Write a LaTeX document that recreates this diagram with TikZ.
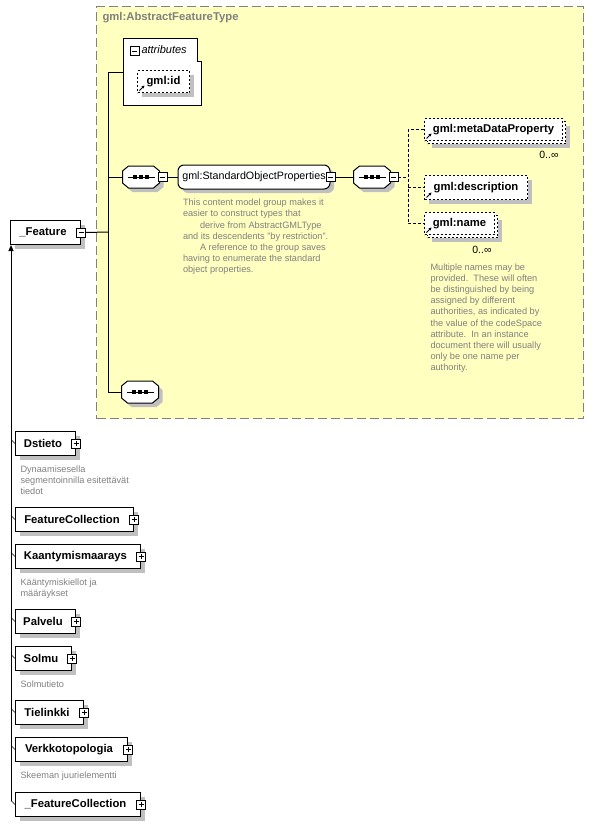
\documentclass[tikz,border=0pt]{standalone}
\usepackage{fontspec}
\setmainfont{Liberation Sans}
\usetikzlibrary{positioning,shadows,arrows.meta,calc}

\definecolor{typebg}{RGB}{255,255,192}
\definecolor{typeframe}{RGB}{128,128,128}
\definecolor{notegray}{RGB}{128,128,128}
\definecolor{shadowgray}{RGB}{192,192,192}

\tikzset{
  boxshadow/.style={drop shadow={shadow xshift=4pt, shadow yshift=-4pt, fill=shadowgray, opacity=1}},
  elem/.style={draw, fill=white, boxshadow, anchor=north west, inner sep=0pt,
    minimum height=24pt, font=\fontsize{11.3}{13}\selectfont\bfseries,
    execute at end node=\hspace*{5pt}},
  refbox/.style={draw, fill=white, anchor=north west, inner sep=0pt,
    minimum height=23pt, dash pattern=on 2pt off 2pt, font=\fontsize{11.3}{13}\selectfont\bfseries,
    path picture={\draw[solid, line width=0.8pt, -{Stealth[length=3pt,width=3pt]}]
      ([shift={(2pt,2pt)}]path picture bounding box.south west) -- ++(5pt,5pt);}},
  eref/.style={refbox, boxshadow},
  erefmulti/.style={refbox,
    drop shadow={shadow xshift=7pt, shadow yshift=-7pt, fill=shadowgray, opacity=1},
    copy shadow={shadow xshift=3pt, shadow yshift=-3pt, draw=black, fill=white, dash pattern=on 2pt off 2pt}},
  expander/.style={draw, solid, fill=white, minimum size=9pt, inner sep=0pt, line width=0.7pt},
  minusbox/.style={expander, path picture={
      \draw ([xshift=2pt]path picture bounding box.west) -- ([xshift=-2pt]path picture bounding box.east);}},
  plusbox/.style={expander, path picture={
      \draw ([xshift=2pt]path picture bounding box.west) -- ([xshift=-2pt]path picture bounding box.east);
      \draw ([yshift=2pt]path picture bounding box.south) -- ([yshift=-2pt]path picture bounding box.north);}},
  sequence/.style={minimum width=36pt, minimum height=21pt, inner sep=0pt},
  group/.style={draw, fill=white, boxshadow, rounded corners=6pt, minimum height=24pt,
    inner sep=0pt, font=\fontsize{10.7}{13}\selectfont},
  typearea/.style={fill=typebg, draw=typeframe, line width=1pt, dash pattern=on 9pt off 4pt},
  typetitle/.style={text=typeframe, font=\fontsize{11.3}{13}\selectfont\bfseries, inner sep=0pt},
  note/.style={text=notegray, align=left, inner sep=0pt, font=\fontsize{9.2}{11.2}\selectfont},
  mult/.style={inner sep=0pt, font=\fontsize{10.5}{12}\selectfont},
  refline/.style={dash pattern=on 3pt off 2pt},
}

\begin{document}
\begin{tikzpicture}[x=1pt, y=-1pt, line width=1pt]
  \useasboundingbox (0,0) rectangle (594,825);

  % Abstract type
  \node[typearea, anchor=north west, minimum width=487pt, minimum height=412pt] (abstractType) at (96,6) {};
  \node[typetitle, anchor=west] (typeTitle) at (102,18) {gml:AbstractFeatureType};

  % Attributes
  \draw[fill=white] (123,38) -- (197,38) -- (197,61) -- (201,61) -- (201,105) -- (123,105) -- cycle;
  \node[minusbox] (attrMinus) at (134.5,51) {};
  \node[anchor=west, inner sep=0pt, font=\fontsize{11}{13}\selectfont\itshape] (attrTitle) at (141,50) {attributes};
  \node[eref, minimum width=52pt, minimum height=22pt] (gmlId) at (137,70) {gml:id};
  \coordinate (attrs) at (123,72);

  % Root element
  \node[elem, minimum width=70pt] (feature) at (10,220) {\_Feature};
  \node[minusbox] (featureMinus) at (feature.east) {};
  \coordinate (fork) at (108,232);

  % Content model
  \node[sequence] (seqMain) at (141,177) {};
  \node[group, minimum width=152pt] (stdProps) at (254,177) {gml:StandardObjectProperties};
  \node[minusbox] (stdPropsMinus) at (stdProps.east) {};
  \node[note, anchor=north west] (stdPropsNote) at ([shift={(5pt,-9pt)}]stdProps.south west)
    {This content model group makes it\\
     easier to construct types that\\
     \hspace*{17pt}derive from AbstractGMLType\\
     and its descendents "by restriction".\\
     \hspace*{17pt}A reference to the group saves\\
     having to enumerate the standard\\
     object properties.};
  \node[sequence] (seqProps) at (372,177) {};
  \coordinate (propsFork) at (408,177);
  \node[sequence] (seqEmpty) at (140,392) {};

  % Sequence symbols
  \foreach \s in {seqMain,seqProps,seqEmpty} {
    \draw[fill=white, boxshadow] ([xshift=6pt]\s.north west) -- ([xshift=-6pt]\s.north east)
      -- ([yshift=-5pt]\s.north east) -- ([yshift=5pt]\s.south east) -- ([xshift=-6pt]\s.south east)
      -- ([xshift=6pt]\s.south west) -- ([yshift=5pt]\s.south west) -- ([yshift=-5pt]\s.north west) -- cycle;
    \draw ([xshift=5pt]\s.west) -- ([xshift=-5pt]\s.east);
    \foreach \d in {-6,0,6}
      \fill ([xshift=\d pt]\s.center) +(-1.6pt,-1.6pt) rectangle +(1.6pt,1.6pt);
  }
  \node[minusbox] (seqMainMinus) at ([xshift=3pt]seqMain.east) {};
  \node[minusbox] (seqPropsMinus) at ([xshift=3pt]seqProps.east) {};

  % Standard object properties
  \node[erefmulti, minimum width=138pt, minimum height=22pt] (metaData) at (424,118) {gml:metaDataProperty};
  \node[mult, anchor=north east] (metaDataMult) at ([shift={(-4pt,-10pt)}]metaData.south east) {0..∞};
  \node[eref, minimum width=103pt, minimum height=24pt] (description) at (424,175) {gml:description};
  \node[erefmulti, minimum width=70pt, minimum height=22pt] (gmlName) at (424,212) {gml:name};
  \node[mult, anchor=north east] (gmlNameMult) at ([shift={(-3pt,-11pt)}]gmlName.south east) {0..∞};
  \node[note, anchor=north west] (gmlNameNote) at ([shift={(6pt,-28pt)}]gmlName.south west)
    {Multiple names may be\\
     provided.\ \ These will often\\
     be distinguished by being\\
     assigned by different\\
     authorities, as indicated by\\
     the value of the codeSpace\\
     attribute.\ \ In an instance\\
     document there will usually\\
     only be one name per\\
     authority.};

  % Connectors
  \draw (featureMinus.east) -- (fork);
  \draw (attrs) -- (attrs -| fork) -- (seqEmpty.west -| fork) -- (seqEmpty.west);
  \draw (fork |- seqMain.west) -- (seqMain.west);
  \draw (seqMainMinus.east) -- (stdProps.west);
  \draw (stdPropsMinus.east) -- (seqProps.west);
  \draw[refline] (seqPropsMinus.east) -- (propsFork);
  \draw[refline] (metaData.west) -| (gmlName.west -| propsFork) -- (gmlName.west);
  \draw[refline] (description.west -| propsFork) -- (description.west);

  % Substitution group
  \node[elem, minimum width=60pt] (dstieto) at (15,431) {Dstieto};
  \node[plusbox] (dstietoPlus) at (dstieto.east) {};
  \node[note, anchor=north west] (dstietoNote) at ([shift={(5pt,-9pt)}]dstieto.south west)
    {Dynaamisesella\\segmentoinnilla esitettävät\\tiedot};
  \node[elem, minimum width=118pt] (featColl) at (15,507) {FeatureCollection};
  \node[plusbox] (featCollPlus) at (featColl.east) {};
  \node[elem, minimum width=125pt] (kaant) at (15,544) {Kaantymismaarays};
  \node[plusbox] (kaantPlus) at (kaant.east) {};
  \node[note, anchor=north west] (kaantNote) at ([shift={(5pt,-9pt)}]kaant.south west)
    {Kääntymiskiellot ja\\määräykset};
  \node[elem, minimum width=60pt] (palvelu) at (15,609) {Palvelu};
  \node[plusbox] (palveluPlus) at (palvelu.east) {};
  \node[elem, minimum width=56pt] (solmu) at (15,646) {Solmu};
  \node[plusbox] (solmuPlus) at (solmu.east) {};
  \node[note, anchor=north west] (solmuNote) at ([shift={(5pt,-9pt)}]solmu.south west) {Solmutieto};
  \node[elem, minimum width=68pt] (tielinkki) at (15,700) {Tielinkki};
  \node[plusbox] (tielinkkiPlus) at (tielinkki.east) {};
  \node[elem, minimum width=112pt] (verkko) at (15,737) {Verkkotopologia};
  \node[plusbox] (verkkoPlus) at (verkko.east) {};
  \node[note, anchor=north west] (verkkoNote) at ([shift={(5pt,-9pt)}]verkko.south west) {Skeeman juurielementti};
  \node[elem, minimum width=125pt] (featCollAbs) at (15,792) {\_FeatureCollection};
  \node[plusbox] (featCollAbsPlus) at (featCollAbs.east) {};

  \coordinate (spineTop) at ([xshift=1pt]feature.south west);
  \coordinate (spineEnd) at ([shift={(-4pt,4pt)}]featCollAbs.west);
  \draw[-{Triangle[length=6pt,width=5pt]}] (spineEnd) -- (spineTop);
  \foreach \el in {dstieto,featColl,kaant,palvelu,solmu,tielinkki,verkko,featCollAbs}
    \draw[line width=0.6pt] (\el.west) -- ++(-4pt,4pt);
\end{tikzpicture}
\end{document}
